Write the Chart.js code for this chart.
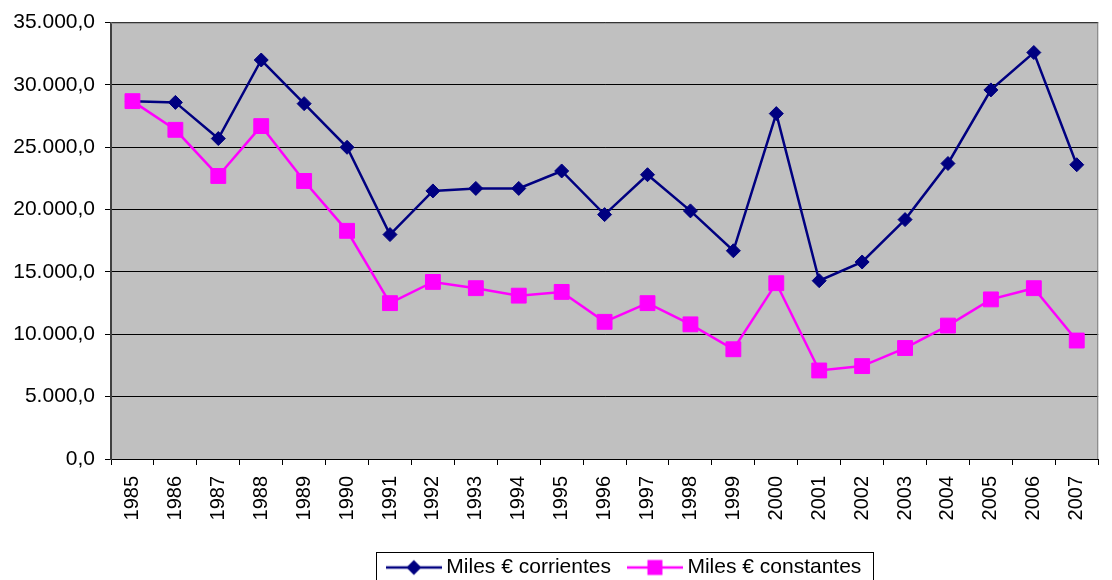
<!DOCTYPE html>
<html>
<head>
<meta charset="utf-8">
<script src="https://cdn.jsdelivr.net/npm/chart.js@4"></script>
<style>
  html, body { margin: 0; padding: 0; background: #fff; }
  #wrap { width: 1112px; height: 580px; position: relative; }
</style>
</head>
<body>
<div id="wrap"><canvas id="chart"></canvas></div>
<script>
// Data
const years = ['1985', '1986', '1987', '1988', '1989', '1990', '1991', '1992', '1993', '1994', '1995', '1996',
    '1997', '1998', '1999', '2000', '2001', '2002', '2003', '2004', '2005', '2006', '2007'];
const corrientes = [28700, 28600, 25700, 32000, 28500, 25000, 18000, 21500, 21700, 21700, 23100, 19600,
    22800, 19900, 16700, 27700, 14300, 15800, 19200, 23700, 29600, 32600, 23600];
const constantes = [28700, 26400, 22700, 26700, 22300, 18300, 12500, 14200, 13700, 13100, 13400, 11000,
    12500, 10800, 8800, 14100, 7100, 7450, 8900, 10700, 12800, 13700, 9500];
const seriesNames = ['Miles € corrientes', 'Miles € constantes'];

const BLUE = '#000080';
const PINK = '#FF00FF';
const FONT = "'Liberation Sans', Arial, sans-serif";

// 1.234,5 style numbers
const fmt = (v) => {
    const parts = v.toFixed(1).split('.');
    parts[0] = parts[0].replace(/\B(?=(\d{3})+(?!\d))/g, '.');
    return parts.join(',');
};

// legend swatch: a short line with the marker in the middle
const makeSwatch = (color, shape) => {
    const c = document.createElement('canvas');
    c.width = 56; c.height = 20;
    const g = c.getContext('2d');
    g.strokeStyle = color;
    g.lineWidth = 2.5;
    g.beginPath(); g.moveTo(0, 10); g.lineTo(56, 10); g.stroke();
    g.fillStyle = color;
    if (shape === 'diamond') {
        g.beginPath();
        g.moveTo(28, 2.5); g.lineTo(35.5, 10); g.lineTo(28, 17.5); g.lineTo(20.5, 10);
        g.closePath(); g.fill();
    } else {
        g.fillRect(20.5, 2.5, 15, 15);
    }
    return c;
};

// grey plot frame + box round the legend, legend nudged to where the original sits
const framePlugin = {
    id: 'frame',
    afterLayout(chart) {
        const lg = chart.legend;
        if (!lg) return;
        lg.left += 22; lg.right += 22;
        lg.top += 8; lg.bottom += 8;
    },
    beforeDatasetsDraw(chart) {
        const { ctx, chartArea: a } = chart;
        ctx.save();
        ctx.strokeStyle = '#808080';
        ctx.lineWidth = 1;
        ctx.beginPath();
        ctx.moveTo(a.left, a.top + 0.5); ctx.lineTo(a.right, a.top + 0.5);
        ctx.moveTo(a.right - 0.5, a.top); ctx.lineTo(a.right - 0.5, a.bottom);
        ctx.stroke();
        ctx.restore();
    },
    afterDraw(chart) {
        const boxes = chart.legend && chart.legend.legendHitBoxes;
        if (!boxes || !boxes.length) return;
        const first = boxes[0], last = boxes[boxes.length - 1];
        const { ctx } = chart;
        ctx.save();
        ctx.strokeStyle = '#000';
        ctx.lineWidth = 1;
        const l = Math.round(first.left - 16) + 0.5;
        const r = Math.round(last.left + last.width + 12) + 0.5;
        const t = Math.round(first.top - 5) + 0.5;
        ctx.strokeRect(l, t, r - l, 40);
        ctx.restore();
    }
};

const ctx = document.getElementById('chart').getContext('2d');
new Chart(ctx, {
    type: 'line',
    data: {
        labels: years,
        datasets: [
            {
                label: seriesNames[1],
                data: constantes,
                borderColor: PINK,
                backgroundColor: PINK,
                borderWidth: 2.5,
                pointStyle: 'rect',
                pointRadius: 10.5,
                pointBorderWidth: 1,
                pointHoverRadius: 10.5,
                tension: 0
            },
            {
                label: seriesNames[0],
                data: corrientes,
                borderColor: BLUE,
                backgroundColor: BLUE,
                borderWidth: 2.5,
                pointStyle: 'rectRot',
                pointRadius: 7,
                pointBorderWidth: 1,
                pointHoverRadius: 7,
                tension: 0
            }
        ]
    },
    options: {
        responsive: true,
        maintainAspectRatio: false,
        devicePixelRatio: 1,
        animation: false,
        layout: { padding: { top: 22, left: 0, right: 0, bottom: 0 } },
        plugins: {
            tooltip: { enabled: false },
            legend: {
                position: 'bottom',
                fullSize: false,
                labels: {
                    font: { family: FONT, size: 21 },
                    color: '#000',
                    usePointStyle: true,
                    pointStyleWidth: 44,
                    padding: 22,
                    generateLabels: () => [
                        { text: seriesNames[0], pointStyle: makeSwatch(BLUE, 'diamond'), fontColor: '#000',
                          fillStyle: BLUE, strokeStyle: BLUE, lineWidth: 0, hidden: false, datasetIndex: 1 },
                        { text: seriesNames[1], pointStyle: makeSwatch(PINK, 'square'), fontColor: '#000',
                          fillStyle: PINK, strokeStyle: PINK, lineWidth: 0, hidden: false, datasetIndex: 0 }
                    ]
                }
            }
        },
        scales: {
            x: {
                offset: true,
                grid: { display: true, offset: true, drawOnChartArea: false, drawTicks: true,
                        tickLength: 6, color: '#000', tickColor: '#000' },
                border: { color: '#000', width: 1 },
                ticks: {
                    minRotation: 90, maxRotation: 90, autoSkip: false,
                    color: '#000', padding: 11,
                    font: { family: FONT, size: 20 }
                },
                afterFit: (s) => { s.height = 68; }
            },
            y: {
                min: 0, max: 35000,
                grid: { color: '#000', tickColor: '#000', tickLength: 6, lineWidth: 1 },
                border: { color: '#404040', width: 2 },
                ticks: {
                    stepSize: 5000,
                    color: '#000',
                    padding: 10,
                    font: { family: FONT, size: 21 },
                    callback: (v) => fmt(v)
                },
                afterFit: (s) => { s.width = 111; }
            }
        }
    },
    plugins: [framePlugin, {
        id: 'plotBg',
        beforeDraw(chart) {
            const { ctx, chartArea: a } = chart;
            ctx.save();
            ctx.fillStyle = '#C0C0C0';
            ctx.fillRect(a.left, a.top, a.right - a.left, a.bottom - a.top);
            ctx.restore();
        }
    }]
});
</script>
</body>
</html>
